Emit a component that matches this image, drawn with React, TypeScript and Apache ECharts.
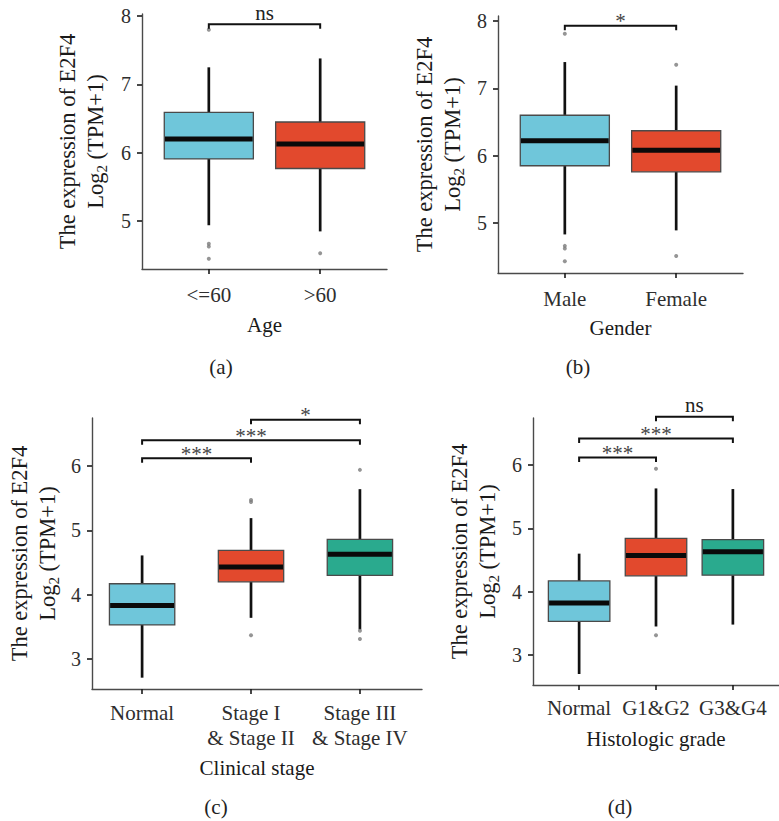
import React, { useEffect, useRef } from 'react';
import * as echarts from 'echarts';

const FONT = "'Liberation Serif', 'Times New Roman', 'DejaVu Serif', serif";

// ---------- data ----------
// box rows: [min(whisker), Q1, median, Q3, max(whisker)]
const ageCats = ['<=60', '>60'];
const ageBoxes = [
  [4.94, 5.91, 6.2, 6.59, 7.25],
  [4.85, 5.77, 6.13, 6.45, 7.38],
];
const ageOutliers = [[0, 7.8], [0, 4.67], [0, 4.63], [0, 4.45], [1, 4.53]];
const ageSig = [[0, 1, 7.88, 'ns']];

const genderCats = ['Male', 'Female'];
const genderBoxes = [
  [4.83, 5.85, 6.22, 6.6, 7.39],
  [4.89, 5.76, 6.08, 6.37, 7.04],
];
const genderOutliers = [[0, 7.81], [0, 4.66], [0, 4.62], [0, 4.43], [1, 7.35], [1, 4.51]];
const genderSig = [[0, 1, 7.93, '*']];

const stageCats = ['Normal', 'Stage I\n& Stage II', 'Stage III\n& Stage IV'];
const stageBoxes = [
  [2.71, 3.53, 3.83, 4.17, 4.61],
  [3.64, 4.2, 4.43, 4.69, 5.19],
  [3.46, 4.3, 4.63, 4.86, 5.64],
];
const stageOutliers = [[1, 5.47], [1, 5.44], [1, 3.37], [2, 5.94], [2, 3.44], [2, 3.31]];
const stageSig = [[0, 1, 6.12, '***'], [0, 2, 6.4, '***'], [1, 2, 6.72, '*']];

const gradeCats = ['Normal', 'G1&G2', 'G3&G4'];
const gradeBoxes = [
  [2.7, 3.53, 3.82, 4.17, 4.6],
  [3.45, 4.25, 4.57, 4.84, 5.63],
  [3.48, 4.26, 4.63, 4.82, 5.62],
];
const gradeOutliers = [[1, 5.94], [1, 3.31]];
const gradeSig = [[0, 1, 6.12, '***'], [0, 2, 6.42, '***'], [1, 2, 6.76, 'ns']];

const yTicksTop = [5, 6, 7, 8];
const yTicksBottom = [3, 4, 5, 6];

// ---------- styles ----------
const BLUE = '#6fc6da';
const RED = '#e2492d';
const TEAL = '#2aaa8e';
const FS = 21;
const FS_YT = 22.5;
const FS_TICK = 20;

const panels = [
  {
    cats: ageCats, boxes: ageBoxes, outliers: ageOutliers, sig: ageSig, fills: [BLUE, RED],
    xName: 'Age', yTicks: yTicksTop,
    grid: { left: 142, top: 14, width: 245, height: 255 },
    xMin: -0.6, xMax: 1.6, yMin: 4.3, yMax: 8.03, boxW: 0.8, xNameGap: 45, labelMargin: 13, yNameGap: 33,
  },
  {
    cats: genderCats, boxes: genderBoxes, outliers: genderOutliers, sig: genderSig, fills: [BLUE, RED],
    xName: 'Gender', yTicks: yTicksTop,
    grid: { left: 498, top: 16, width: 245, height: 257 },
    xMin: -0.6, xMax: 1.6, yMin: 4.257, yMax: 8.074, boxW: 0.8, xNameGap: 44, labelMargin: 13, yNameGap: 32,
  },
  {
    cats: stageCats, boxes: stageBoxes, outliers: stageOutliers, sig: stageSig, fills: [BLUE, RED, TEAL],
    xName: 'Clinical stage', yTicks: yTicksBottom,
    grid: { left: 92, top: 418, width: 330, height: 271 },
    xMin: -0.46, xMax: 2.57, yMin: 2.534, yMax: 6.746, boxW: 0.6, xNameGap: 68, labelMargin: 11, yNameGap: 31,
  },
  {
    cats: gradeCats, boxes: gradeBoxes, outliers: gradeOutliers, sig: gradeSig, fills: [BLUE, RED, TEAL],
    xName: 'Histologic grade', yTicks: yTicksBottom,
    grid: { left: 533, top: 418, width: 259, height: 267 },
    xMin: -0.6, xMax: 2.6, yMin: 2.526, yMax: 6.742, boxW: 0.8, xNameGap: 43, labelMargin: 10, yNameGap: 32,
  },
];

const panelLetters = [
  { text: '(a)', x: 221, y: 367 },
  { text: '(b)', x: 578, y: 367 },
  { text: '(c)', x: 216, y: 807 },
  { text: '(d)', x: 620, y: 807 },
];

function buildOption() {
  const grids: any[] = [];
  const xAxes: any[] = [];
  const yAxes: any[] = [];
  const series: any[] = [];

  panels.forEach((p, i) => {
    grids.push({ ...p.grid, containLabel: false });
    const idxs = p.cats.map((_, k) => k);
    xAxes.push({
      type: 'value',
      gridIndex: i,
      min: p.xMin,
      max: p.xMax,
      name: p.xName,
      nameLocation: 'middle',
      nameGap: p.xNameGap,
      nameMoveOverlap: false,
      nameTextStyle: { fontFamily: FONT, fontSize: FS, color: '#1a1a1a', verticalAlign: 'top' },
      splitLine: { show: false },
      axisLine: { show: true, onZero: false, lineStyle: { color: '#4a4a4a', width: 1.4 } },
      axisTick: { show: true, length: 5, customValues: idxs, lineStyle: { color: '#1a1a1a', width: 1.6 } },
      axisLabel: {
        show: true,
        customValues: idxs,
        margin: p.labelMargin,
        fontFamily: FONT,
        fontSize: FS,
        lineHeight: 25,
        verticalAlign: 'top',
        color: '#2e2e2e',
        formatter: (v: number) => p.cats[Math.round(v)] ?? '',
      },
    });
    yAxes.push({
      type: 'value',
      gridIndex: i,
      min: p.yMin,
      max: p.yMax,
      name: '{t|The expression of E2F4}\n{t|Log}{s|2}{t| (TPM+1)}',
      nameLocation: 'middle',
      nameRotate: 90,
      nameGap: p.yNameGap,
      nameMoveOverlap: false,
      nameTextStyle: {
        fontFamily: FONT, fontSize: FS_YT, color: '#1a1a1a', lineHeight: 28,
        rich: {
          t: { fontFamily: FONT, fontSize: FS_YT, color: '#1a1a1a', lineHeight: 28 },
          s: { fontFamily: FONT, fontSize: 15, color: '#1a1a1a', lineHeight: 14, verticalAlign: 'bottom' },
        },
      },
      splitLine: { show: false },
      axisLine: { show: true, onZero: false, lineStyle: { color: '#4a4a4a', width: 1.4 } },
      axisTick: { show: true, length: 5, customValues: p.yTicks, lineStyle: { color: '#1a1a1a', width: 1.6 } },
      axisLabel: {
        show: true, customValues: p.yTicks, margin: 11,
        fontFamily: FONT, fontSize: FS_TICK, color: '#2e2e2e',
      },
    });

    const boxData = p.boxes.map((b, k) => [k, ...b]);
    series.push({
      type: 'custom',
      xAxisIndex: i,
      yAxisIndex: i,
      data: boxData,
      encode: { x: 0, y: [1, 2, 3, 4, 5] },
      renderItem: (params: any, api: any) => {
        const x = api.value(0);
        const mn = api.coord([x, api.value(1)]);
        const q1 = api.coord([x, api.value(2)]);
        const md = api.coord([x, api.value(3)]);
        const q3 = api.coord([x, api.value(4)]);
        const mx = api.coord([x, api.value(5)]);
        const w = api.size([p.boxW, 0])[0];
        const fill = p.fills[params.dataIndex];
        const wl = { stroke: '#111', lineWidth: 2.7 };
        return {
          type: 'group',
          children: [
            { type: 'line', shape: { x1: mn[0], y1: mn[1], x2: q1[0], y2: q1[1] }, style: wl },
            { type: 'line', shape: { x1: q3[0], y1: q3[1], x2: mx[0], y2: mx[1] }, style: wl },
            {
              type: 'rect',
              shape: { x: q3[0] - w / 2, y: q3[1], width: w, height: q1[1] - q3[1] },
              style: { fill, stroke: '#4a4a4a', lineWidth: 1.3 },
            },
            {
              type: 'line',
              shape: { x1: md[0] - w / 2 + 0.7, y1: md[1], x2: md[0] + w / 2 - 0.7, y2: md[1] },
              style: { stroke: '#0a0a0a', lineWidth: 5 },
            },
          ],
        };
      },
      z: 2,
    });

    series.push({
      type: 'scatter',
      xAxisIndex: i,
      yAxisIndex: i,
      data: p.outliers,
      symbol: 'circle',
      symbolSize: 4,
      itemStyle: { color: '#7a7a7a' },
      z: 3,
    });

    series.push({
      type: 'custom',
      xAxisIndex: i,
      yAxisIndex: i,
      data: p.sig.map((s) => [s[0], s[1], s[2]]),
      encode: { x: [0, 1], y: 2 },
      clip: false,
      renderItem: (params: any, api: any) => {
        const a = api.coord([api.value(0), api.value(2)]);
        const b = api.coord([api.value(1), api.value(2)]);
        const label = p.sig[params.dataIndex][3] as string;
        const isStar = label.indexOf('*') >= 0;
        return {
          type: 'group',
          children: [
            {
              type: 'polyline',
              shape: { points: [[a[0], a[1] + 4.5], [a[0], a[1]], [b[0], b[1]], [b[0], b[1] + 4.5]] },
              style: { stroke: '#111', lineWidth: 2, fill: 'none' },
            },
            {
              type: 'text',
              x: (a[0] + b[0]) / 2,
              y: a[1] + (isStar ? 6 : -1),
              style: {
                text: label,
                fontFamily: FONT,
                fontSize: FS,
                fill: isStar ? '#444' : '#222',
                align: 'center',
                verticalAlign: 'bottom',
              },
            },
          ],
        };
      },
      z: 4,
    });
  });

  return {
    animation: false,
    backgroundColor: '#ffffff',
    grid: grids,
    xAxis: xAxes,
    yAxis: yAxes,
    series,
    graphic: panelLetters.map((l) => ({
      type: 'text',
      x: l.x,
      y: l.y,
      style: {
        text: l.text,
        fontFamily: FONT,
        fontSize: FS,
        fill: '#222',
        align: 'center',
        verticalAlign: 'middle',
      },
    })),
  };
}

export default function App() {
  const ref = useRef<HTMLDivElement>(null);
  useEffect(() => {
    if (!ref.current) return;
    const chart = echarts.init(ref.current, null, { renderer: 'svg' });
    chart.setOption(buildOption() as any);
    return () => chart.dispose();
  }, []);
  return (
    <div
      ref={ref}
      style={{ position: 'absolute', left: 0, top: 0, width: 779, height: 821, background: '#fff' }}
    />
  );
}
